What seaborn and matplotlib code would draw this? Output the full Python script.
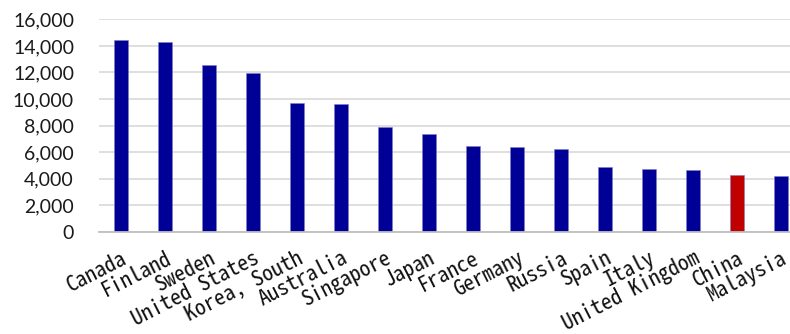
import matplotlib
matplotlib.use("Agg")
import matplotlib.pyplot as plt
import seaborn as sns
import pandas as pd
from matplotlib.ticker import FuncFormatter

countries = ["Canada", "Finland", "Sweden", "United States", "Korea, South",
             "Australia", "Singapore", "Japan", "France", "Germany", "Russia",
             "Spain", "Italy", "United Kingdom", "China", "Malaysia"]
values = [14480, 14300, 12570, 11970, 9670, 9600, 7870, 7340, 6480, 6360,
          6240, 4880, 4730, 4630, 4280, 4210]
highlight = "China"

navy = "#000096"
red = "#C00000"

df = pd.DataFrame({"country": countries, "value": values})
palette = {c: (red if c == highlight else navy) for c in countries}

sns.set_theme(style="white")
plt.rcParams["font.family"] = ["Lato", "DejaVu Sans"]

fig = plt.figure(figsize=(7.9, 3.34), dpi=100)
ax = fig.add_axes([99 / 790, 102 / 334, 704 / 790, (232 - 19.3) / 334])

sns.barplot(data=df, x="country", y="value", hue="country", palette=palette,
            width=0.32, legend=False, ax=ax, saturation=1,
            edgecolor="#8080c8", linewidth=0.4)

ax.set_xlim(-0.5, len(countries) - 0.5)
ax.set_ylim(0, 16000)
ax.set_yticks(range(0, 16001, 2000))
ax.yaxis.set_major_formatter(FuncFormatter(lambda v, p: f"{int(v):,}"))
ax.yaxis.grid(True, color="#d9d9d9", linewidth=1.2)
ax.set_axisbelow(True)

for s in ["top", "right", "left"]:
    ax.spines[s].set_visible(False)
ax.spines["bottom"].set_color("#bfbfbf")
ax.spines["bottom"].set_linewidth(1.3)

ax.set_xlabel("")
ax.set_ylabel("")
ax.tick_params(axis="y", length=0, pad=18, labelsize=14, labelcolor="#1a1a1a")
ax.tick_params(axis="x", length=0, pad=11)
for lbl in ax.get_yticklabels():
    lbl.set_horizontalalignment("right")

ax.set_xticks(range(len(countries)))
ax.set_xticklabels(countries, rotation=27, ha="right", va="top",
                   rotation_mode="anchor",
                   family=["Noto Sans Mono CJK JP", "DejaVu Sans Mono"],
                   fontsize=15.5, color="#111111")

fig.savefig("out.png", dpi=100)
